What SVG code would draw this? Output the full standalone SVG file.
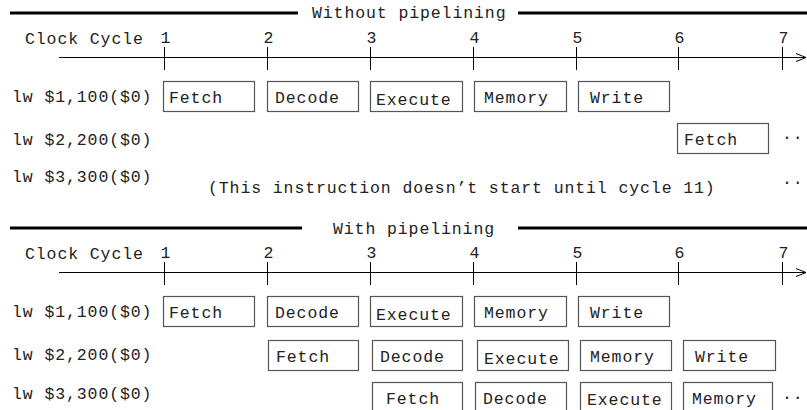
<svg xmlns="http://www.w3.org/2000/svg" width="807" height="410" viewBox="0 0 807 410">
<defs>
<style>
text{font-family:"Liberation Mono","Courier New",monospace;font-size:16.5px;letter-spacing:0.9px;fill:#222}
.thick{stroke:#000;stroke-width:3}
.ax{stroke:#000;stroke-width:1;fill:none}
.box rect{fill:#fff;stroke:#555;stroke-width:1.2}
</style>
<marker id="arr" viewBox="0 0 10 10" refX="10" refY="5" markerWidth="10" markerHeight="10" markerUnits="userSpaceOnUse" orient="auto">
<path d="M0,1 L10,5 L0,9" fill="none" stroke="#000" stroke-width="1"/>
</marker>
</defs>
<rect width="807" height="410" fill="#fff"/>

<!-- Top section: Without pipelining -->
<g id="header-top">
<line class="thick" x1="10" y1="13" x2="298" y2="13"/>
<text x="312" y="18">Without pipelining</text>
<line class="thick" x1="518" y1="13" x2="807" y2="13"/>
</g>
<g id="axis-top">
<text x="25" y="44">Clock Cycle</text>
<g text-anchor="middle">
<text x="166" y="43">1</text><text x="269" y="43">2</text><text x="372" y="43">3</text><text x="475" y="43">4</text><text x="578" y="43">5</text><text x="680" y="43">6</text><text x="784" y="43">7</text>
</g>
</g>
<g id="labels-top">
<text x="12" y="102">lw $1,100($0)</text>
<text x="12" y="145">lw $2,200($0)</text>
<text x="12" y="182">lw $3,300($0)</text>
<text x="208" y="193">(This instruction doesn’t start until cycle 11)</text>
<text x="782" y="139">..</text>
<text x="782" y="184">..</text>
</g>
<g id="t1-fetch" class="box"><rect x="163.5" y="81.5" width="91" height="30"/><text x="169" y="103">Fetch</text></g>
<g id="t1-decode" class="box"><rect x="267.5" y="81.5" width="91" height="30"/><text x="275" y="103">Decode</text></g>
<g id="t1-execute" class="box"><rect x="370.5" y="81.5" width="92" height="30"/><text x="376" y="105">Execute</text></g>
<g id="t1-memory" class="box"><rect x="474.5" y="81.5" width="92" height="30"/><text x="484" y="103">Memory</text></g>
<g id="t1-write" class="box"><rect x="578.5" y="81.5" width="91" height="30"/><text x="590" y="103">Write</text></g>
<g id="t2-fetch" class="box"><rect x="677.5" y="123.5" width="91" height="30"/><text x="684" y="145">Fetch</text></g>

<!-- Bottom section: With pipelining -->
<g id="header-bottom">
<line class="thick" x1="10" y1="228" x2="302" y2="228"/>
<text x="333" y="234">With pipelining</text>
<line class="thick" x1="518" y1="228" x2="807" y2="228"/>
</g>
<g id="axis-bottom">
<text x="25" y="259">Clock Cycle</text>
<g text-anchor="middle">
<text x="166" y="258">1</text><text x="269" y="258">2</text><text x="372" y="258">3</text><text x="475" y="258">4</text><text x="578" y="258">5</text><text x="680" y="258">6</text><text x="784" y="258">7</text>
</g>
</g>
<g id="labels-bottom">
<text x="12" y="317">lw $1,100($0)</text>
<text x="12" y="360">lw $2,200($0)</text>
<text x="12" y="399">lw $3,300($0)</text>
<text x="782" y="399">..</text>
</g>
<g id="b1-fetch" class="box"><rect x="163.5" y="296.5" width="91" height="30"/><text x="169" y="318">Fetch</text></g>
<g id="b1-decode" class="box"><rect x="267.5" y="296.5" width="91" height="30"/><text x="275" y="318">Decode</text></g>
<g id="b1-execute" class="box"><rect x="370.5" y="296.5" width="92" height="30"/><text x="376" y="320">Execute</text></g>
<g id="b1-memory" class="box"><rect x="474.5" y="296.5" width="92" height="30"/><text x="484" y="318">Memory</text></g>
<g id="b1-write" class="box"><rect x="578.5" y="296.5" width="91" height="30"/><text x="590" y="318">Write</text></g>

<g id="b2-fetch" class="box"><rect x="268.5" y="340.5" width="90" height="30"/><text x="276" y="362">Fetch</text></g>
<g id="b2-decode" class="box"><rect x="372.5" y="340.5" width="90" height="30"/><text x="380" y="362">Decode</text></g>
<g id="b2-execute" class="box"><rect x="477.5" y="340.5" width="91" height="30"/><text x="484" y="364">Execute</text></g>
<g id="b2-memory" class="box"><rect x="580.5" y="340.5" width="91" height="30"/><text x="590" y="362">Memory</text></g>
<g id="b2-write" class="box"><rect x="683.5" y="340.5" width="92" height="30"/><text x="695" y="362">Write</text></g>

<g id="b3-fetch" class="box"><rect x="372.5" y="382.5" width="90" height="30"/><text x="386" y="404">Fetch</text></g>
<g id="b3-decode" class="box"><rect x="475.5" y="382.5" width="91" height="30"/><text x="483" y="404">Decode</text></g>
<g id="b3-execute" class="box"><rect x="580.5" y="382.5" width="91" height="30"/><text x="587" y="405">Execute</text></g>
<g id="b3-memory" class="box"><rect x="683.5" y="382.5" width="89" height="30"/><text x="692" y="404">Memory</text></g>

<g id="connectors">
<line class="ax" x1="59" y1="57.5" x2="806" y2="57.5" marker-end="url(#arr)"/>
<line class="ax" x1="164.5" y1="47" x2="164.5" y2="70"/>
<line class="ax" x1="267.5" y1="47" x2="267.5" y2="70"/>
<line class="ax" x1="370.5" y1="47" x2="370.5" y2="70"/>
<line class="ax" x1="473.5" y1="47" x2="473.5" y2="70"/>
<line class="ax" x1="576.5" y1="47" x2="576.5" y2="70"/>
<line class="ax" x1="678.5" y1="47" x2="678.5" y2="70"/>
<line class="ax" x1="782.5" y1="47" x2="782.5" y2="70"/>
<line class="ax" x1="59" y1="272.5" x2="806" y2="272.5" marker-end="url(#arr)"/>
<line class="ax" x1="164.5" y1="262" x2="164.5" y2="285"/>
<line class="ax" x1="267.5" y1="262" x2="267.5" y2="285"/>
<line class="ax" x1="370.5" y1="262" x2="370.5" y2="285"/>
<line class="ax" x1="473.5" y1="262" x2="473.5" y2="285"/>
<line class="ax" x1="576.5" y1="262" x2="576.5" y2="285"/>
<line class="ax" x1="678.5" y1="262" x2="678.5" y2="285"/>
<line class="ax" x1="782.5" y1="262" x2="782.5" y2="285"/>
</g>
</svg>
